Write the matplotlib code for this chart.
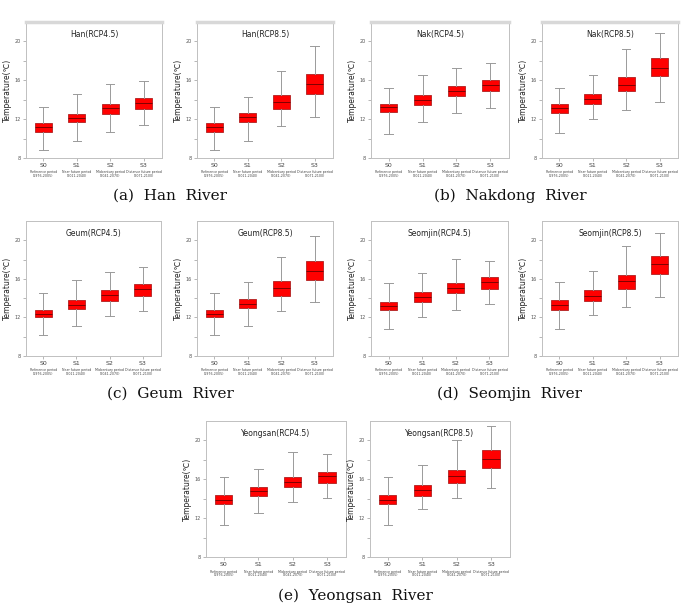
import matplotlib
matplotlib.use("Agg")
import matplotlib.pyplot as plt
from matplotlib import font_manager

# periods
periods = ["S0", "S1", "S2", "S3"]
period_desc = ["Reference period\n(1976-2005)", "Near future period\n(2011-2040)",
               "Midcentury period\n(2041-2070)", "Distance future period\n(2071-2100)"]

# box stats: whisker low, q1, median, q3, whisker high
han_45 = {"lo": [8.8, 9.8, 10.7, 11.4], "q1": [10.7, 11.7, 12.5, 13.0],
          "med": [11.2, 12.1, 13.1, 13.7], "q3": [11.6, 12.55, 13.55, 14.2],
          "hi": [13.3, 14.6, 15.6, 15.9]}
han_85 = {"lo": [8.8, 9.7, 11.3, 12.2], "q1": [10.7, 11.7, 13.0, 14.6],
          "med": [11.2, 12.2, 13.8, 15.6], "q3": [11.6, 12.65, 14.5, 16.6],
          "hi": [13.3, 14.3, 17.0, 19.5]}
nak_45 = {"lo": [10.5, 11.7, 12.6, 13.1], "q1": [12.7, 13.5, 14.4, 14.85],
          "med": [13.2, 14.0, 14.9, 15.5], "q3": [13.6, 14.5, 15.4, 16.0],
          "hi": [15.2, 16.5, 17.3, 17.8]}
nak_85 = {"lo": [10.6, 12.0, 12.9, 13.8], "q1": [12.65, 13.6, 14.9, 16.4],
          "med": [13.1, 14.1, 15.55, 17.3], "q3": [13.6, 14.6, 16.3, 18.3],
          "hi": [15.2, 16.5, 19.2, 20.9]}
geum_45 = {"lo": [10.2, 11.15, 12.1, 12.7], "q1": [12.0, 12.9, 13.7, 14.2],
           "med": [12.4, 13.3, 14.3, 14.9], "q3": [12.8, 13.8, 14.8, 15.45],
           "hi": [14.5, 15.9, 16.7, 17.2]}
geum_85 = {"lo": [10.2, 11.15, 12.7, 13.6], "q1": [12.0, 12.95, 14.2, 15.9],
           "med": [12.4, 13.4, 15.0, 16.85], "q3": [12.8, 13.9, 15.75, 17.8],
           "hi": [14.5, 15.7, 18.3, 20.4]}
seom_45 = {"lo": [10.8, 12.0, 12.8, 13.4], "q1": [12.8, 13.65, 14.5, 14.9],
           "med": [13.2, 14.1, 15.0, 15.65], "q3": [13.65, 14.6, 15.6, 16.2],
           "hi": [15.6, 16.6, 18.1, 17.9]}
seom_85 = {"lo": [10.8, 12.2, 13.1, 14.1], "q1": [12.8, 13.7, 14.9, 16.55],
           "med": [13.25, 14.25, 15.8, 17.5], "q3": [13.8, 14.8, 16.4, 18.4],
           "hi": [15.65, 16.8, 19.4, 20.8]}
yeong_45 = {"lo": [11.3, 12.55, 13.65, 14.1], "q1": [13.45, 14.3, 15.2, 15.6],
            "med": [13.9, 14.8, 15.75, 16.3], "q3": [14.4, 15.2, 16.2, 16.8],
            "hi": [16.2, 17.1, 18.8, 18.6]}
yeong_85 = {"lo": [11.3, 12.9, 14.1, 15.1], "q1": [13.45, 14.3, 15.6, 17.2],
            "med": [13.9, 14.9, 16.3, 18.05], "q3": [14.4, 15.4, 17.0, 19.0],
            "hi": [16.2, 17.5, 20.0, 21.5]}

titles = ["Han(RCP4.5)", "Han(RCP8.5)", "Nak(RCP4.5)", "Nak(RCP8.5)",
          "Geum(RCP4.5)", "Geum(RCP8.5)", "Seomjin(RCP4.5)", "Seomjin(RCP8.5)",
          "Yeongsan(RCP4.5)", "Yeongsan(RCP8.5)"]
panel_data = [han_45, han_85, nak_45, nak_85, geum_45, geum_85,
              seom_45, seom_85, yeong_45, yeong_85]
captions = ["(a)  Han  River", "(b)  Nakdong  River", "(c)  Geum  River",
            "(d)  Seomjin  River", "(e)  Yeongsan  River"]

W, H = 689, 610
# panel boxes in pixels: left, top, right, bottom
boxes = [(26, 22, 162, 158), (197, 22, 333, 158), (371, 22, 509, 158), (542, 22, 678, 158),
         (26, 221, 161, 356), (197, 221, 333, 356), (371, 221, 508, 356), (542, 221, 678, 356),
         (206, 421, 346, 557), (370, 421, 510, 557)]
cap_pos = [(170, 196), (510, 196), (170, 394), (510, 394), (355, 596)]

# narrow font for the tiny period descriptions if it is there
names = {f.name for f in font_manager.fontManager.ttflist}
desc_family = "Liberation Sans Narrow" if "Liberation Sans Narrow" in names else "DejaVu Sans"
desc_size = 2.8 if desc_family == "Liberation Sans Narrow" else 2.35

fig = plt.figure(figsize=(W / 100, H / 100), dpi=100)

grey = "#9a9a9a"
for i, (d, title, b) in enumerate(zip(panel_data, titles, boxes)):
    l, t, r, bt = b
    ax = fig.add_axes([l / W, 1 - bt / H, (r - l) / W, (bt - t) / H])
    stats = []
    for k in range(4):
        stats.append({"whislo": d["lo"][k], "q1": d["q1"][k], "med": d["med"][k],
                      "q3": d["q3"][k], "whishi": d["hi"][k], "fliers": []})
    ax.bxp(stats, positions=[1, 2, 3, 4], widths=0.5, patch_artist=True,
           showfliers=False,
           boxprops=dict(facecolor="#ff0000", edgecolor="#b02020", linewidth=0.6),
           medianprops=dict(color="#6a0000", linewidth=0.6),
           whiskerprops=dict(color=grey, linewidth=0.7),
           capprops=dict(color=grey, linewidth=0.7))
    ax.set_xlim(0.48, 4.55)
    ax.set_ylim(8, 22)
    ax.set_yticks([8, 12, 16, 20])
    ax.set_yticks([10, 14, 18], minor=True)
    ax.set_yticklabels(["8", "12", "16", "20"], fontsize=3.5, color="#555555")
    ax.set_xticks([1, 2, 3, 4])
    ax.set_xticklabels(periods, fontsize=4.5, color="#444444")
    ax.tick_params(axis="both", which="both", color=grey, length=2, width=0.5, pad=1.5)
    for x, desc in zip([1, 2, 3, 4], period_desc):
        ax.annotate(desc, xy=(x, 0), xycoords=ax.get_xaxis_transform(),
                    xytext=(0, -9), textcoords="offset points", ha="center", va="top",
                    fontsize=desc_size, family=desc_family, color="#444444",
                    linespacing=0.95)
    for s in ax.spines.values():
        s.set_color("#c0c0c0")
        s.set_linewidth(0.7)
    if i < 4:
        ax.spines["top"].set_color("#d8d8d8")
        ax.spines["top"].set_linewidth(2.5)
    ax.set_title(title, fontsize=5.5, y=0.94, va="top", pad=0, color="#222222")
    ax.set_ylabel("Temperature(\u2103)", fontsize=5.5, labelpad=2, color="#222222")

for cap, (cx, cy) in zip(captions, cap_pos):
    fig.text(cx / W, 1 - cy / H, cap, ha="center", va="center",
             fontsize=11, family="DejaVu Serif", color="#111111")

plt.savefig("out.png", dpi=100)
plt.close()
